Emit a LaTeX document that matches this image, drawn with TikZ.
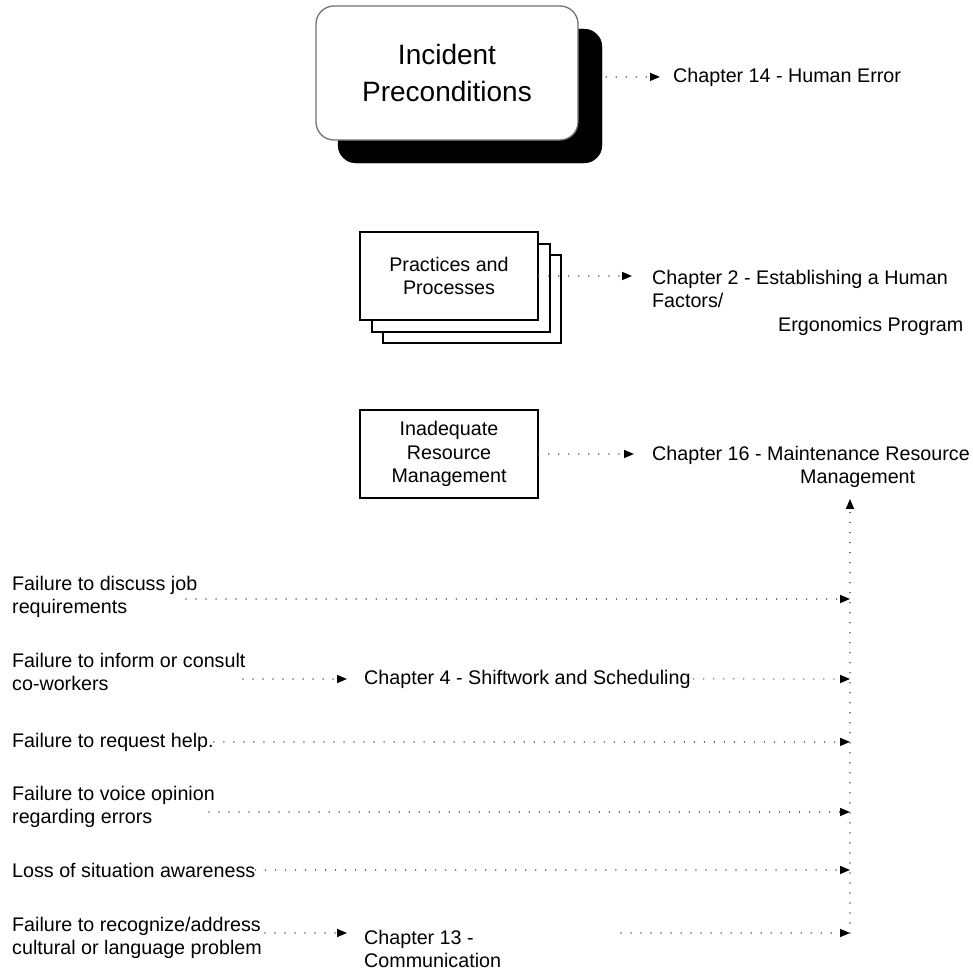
\documentclass[tikz,border=0pt]{standalone}
\usepackage{fontspec}
\setmainfont{Liberation Sans}
\usetikzlibrary{arrows.meta}
\newcommand\lblfont{\fontsize{19.7pt}{23.5pt}\selectfont}
\newcommand\titlefont{\fontsize{28pt}{37pt}\selectfont}
\begin{document}
\begin{tikzpicture}[x=1pt,y=-1pt,
  lbl/.style={inner sep=0pt, font=\lblfont, align=left},
  card/.style={draw=black, line width=1.6pt, fill=white, minimum width=178pt,
    minimum height=88pt, inner sep=0pt, font=\lblfont, align=center},
  dotline/.style={draw=black!65, line width=1.5pt, dash pattern=on 0.01pt off 10pt,
    line cap=round},
  tip/.style={-{Triangle[length=10pt,width=8pt,color=black]}}]
\useasboundingbox (0,0) rectangle (972,974);

% top block with its drop shadow
\node[fill=black, draw=black, rounded corners=18pt, minimum width=264pt,
  minimum height=134pt] (ipsh) at (470,96) {};
\node[fill=white, draw=black!55, line width=1.3pt, rounded corners=18pt,
  minimum width=262pt, minimum height=134pt, font=\titlefont, align=center,
  inner sep=0pt] (ip) at (447,73) {Incident\\Preconditions};
\node[lbl, anchor=base west] (ch14) at (673,82) {Chapter 14 - Human Error};
\draw[dotline, tip, shorten <=4pt, shorten >=13pt] (ipsh.east |- ch14.west) -- (ch14.west);

% stacked practice cards
\node[card] (pp3) at (472,299) {};
\node[card] (pp2) at (461,288) {};
\node[card] (pp) at (449,276) {Practices and\\Processes};
\node[lbl, anchor=north west] (ch2) at (652,269.7)
  {Chapter 2 - Establishing a Human\\Factors/\\\hspace*{126pt}Ergonomics Program};
\draw[dotline, tip, shorten >=20pt] (pp.east) -- (pp.east -| ch2.west);

% resource management card
\node[card] (irm) at (449,454) {Inadequate\\Resource\\Management};
\node[lbl, anchor=north west] (ch16) at (652,445.7)
  {Chapter 16 - Maintenance Resource\\\hspace*{148pt}Management};
\draw[dotline, tip, shorten >=18pt] (irm.east) -- (irm.east -| ch16.west);

% collecting line on the right
\coordinate (v1) at (850,599);
\coordinate (v2) at (850,679);
\coordinate (v4) at (850,812);
\coordinate (v6) at (850,933);
\draw[dotline, tip, shorten >=11pt] (v6) -- (v6 |- ch16.south);

% failure rows
\node[lbl, anchor=north west] (f1) at (12,575.7) {Failure to discuss job\\requirements};
\coordinate (s1) at (186,599);
\draw[dotline, tip] (s1) -- (v1);

\node[lbl, anchor=north west] (f2) at (12,652.7) {Failure to inform or consult\\co-workers};
\node[lbl, anchor=base west] (ch4) at (364,684) {Chapter 4 - Shiftwork and Scheduling};
\coordinate (s2) at (243,679);
\draw[dotline, tip, shorten >=17pt] (s2) -- (s2 -| ch4.west);
\draw[dotline, tip, shorten <=3pt] (ch4.east) -- (v2);

\node[lbl, anchor=base west] (f3) at (12,747) {Failure to request help.};
\draw[dotline, tip] (f3.east) -- (f3.east -| v1);

\node[lbl, anchor=north west] (f4) at (12,785.7) {Failure to voice opinion\\regarding errors};
\coordinate (s4) at (209,812);
\draw[dotline, tip] (s4) -- (v4);

\node[lbl, anchor=base west] (f5) at (12,877) {Loss of situation awareness};
\draw[dotline, tip] (f5.east) -- (f5.east -| v1);

\node[lbl, anchor=north west] (f6) at (12,916.7) {Failure to recognize/address\\cultural or language problem};
\node[lbl, anchor=north west] (ch13) at (364,929.7) {Chapter 13 -\\Communication};
\coordinate (s6) at (265,933);
\coordinate (t6) at (621,933);
\draw[dotline, tip, shorten >=17pt] (s6) -- (s6 -| ch13.west);
\draw[dotline, tip] (t6) -- (v6);
\end{tikzpicture}
\end{document}
